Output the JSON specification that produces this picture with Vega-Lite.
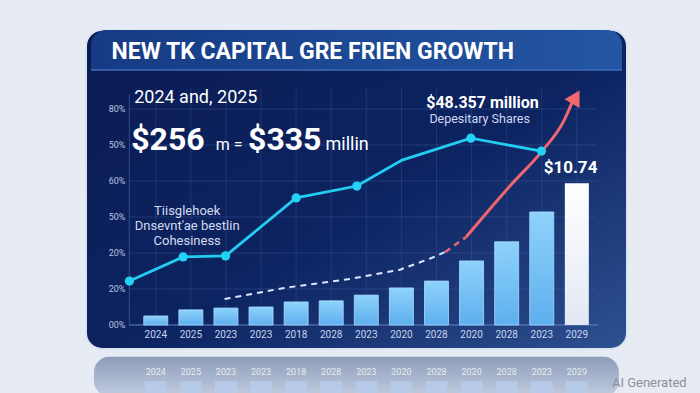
{
  "$schema": "https://vega.github.io/schema/vega-lite/v6.json",
  "width": 541,
  "height": 319,
  "autosize": {"type": "none"},
  "padding": {"left": 86, "top": 30, "right": 73, "bottom": 44},
  "background": "#e7ecf4",
  "config": {
    "axis": {"disable": true},
    "view": {
      "fill": {"gradient": "linear", "x1": 0, "y1": 0, "x2": 1, "y2": 1, "stops": [{"offset": 0, "color": "#0a1b52"}, {"offset": 0.55, "color": "#0d2462"}, {"offset": 1, "color": "#2e5192"}]},
      "stroke": "#dbe4f3",
      "strokeWidth": 2,
      "cornerRadius": 16
    },
    "text": {"font": "Roboto"}
  },
  "datasets": {
    "bars": [
      {"i": 1, "year": "2024", "value": 0.25},
      {"i": 2, "year": "2025", "value": 0.42},
      {"i": 3, "year": "2023", "value": 0.47},
      {"i": 4, "year": "2023", "value": 0.5},
      {"i": 5, "year": "2018", "value": 0.64},
      {"i": 6, "year": "2028", "value": 0.67},
      {"i": 7, "year": "2023", "value": 0.83},
      {"i": 8, "year": "2020", "value": 1.03},
      {"i": 9, "year": "2028", "value": 1.22},
      {"i": 10, "year": "2020", "value": 1.78},
      {"i": 11, "year": "2028", "value": 2.31},
      {"i": 12, "year": "2023", "value": 3.14},
      {"i": 13, "year": "2029", "value": 3.94}
    ],
    "yticks": [
      {"v": 0, "label": "00%"},
      {"v": 1, "label": "20%"},
      {"v": 2, "label": "20%"},
      {"v": 3, "label": "50%"},
      {"v": 4, "label": "60%"},
      {"v": 5, "label": "50%"},
      {"v": 6, "label": "80%"}
    ],
    "cyan": [
      {"x": 0.25, "v": 1.22, "marker": true},
      {"x": 1.78, "v": 1.89, "marker": true},
      {"x": 2.99, "v": 1.92, "marker": true},
      {"x": 5.0, "v": 3.53, "marker": true},
      {"x": 6.73, "v": 3.86, "marker": true},
      {"x": 8.02, "v": 4.58, "marker": false},
      {"x": 9.98, "v": 5.19, "marker": true},
      {"x": 11.99, "v": 4.83, "marker": true}
    ],
    "dashed": [
      {"x": 2.96, "v": 0.72},
      {"x": 4.66, "v": 1.03},
      {"x": 6.54, "v": 1.28},
      {"x": 7.94, "v": 1.53},
      {"x": 8.86, "v": 1.86},
      {"x": 9.25, "v": 2.03}
    ],
    "reddash": [
      {"x": 9.25, "v": 2.03},
      {"x": 9.84, "v": 2.44}
    ],
    "red": [
      {"x": 9.84, "v": 2.44},
      {"x": 10.45, "v": 3.14},
      {"x": 11.15, "v": 3.92},
      {"x": 11.99, "v": 4.81},
      {"x": 12.64, "v": 5.69},
      {"x": 12.86, "v": 6.17}
    ],
    "one": [{"k": 1}]
  },
  "layer": [
    {
      "data": {"name": "one"},
      "mark": {"type": "rect", "cornerRadiusTopLeft": 15, "cornerRadiusTopRight": 15,
        "fill": {"gradient": "linear", "x1": 0, "y1": 0, "x2": 1, "y2": 0, "stops": [{"offset": 0, "color": "#163b84"}, {"offset": 1, "color": "#2456a3"}]}},
      "encoding": {
        "x": {"datum": -0.846, "type": "quantitative", "scale": {"domain": [-0.846, 14.287], "nice": false, "zero": false}},
        "x2": {"datum": 14.287},
        "y": {"datum": 7.083, "type": "quantitative", "scale": {"domain": [-0.667, 8.194], "nice": false, "zero": false}},
        "y2": {"datum": 8.194}
      }
    },
    {
      "data": {"name": "one"},
      "mark": {"type": "rule", "color": "#3f6bbb", "strokeWidth": 1.5},
      "encoding": {
        "x": {"datum": -0.846, "type": "quantitative", "scale": {"domain": [-0.846, 14.287], "nice": false, "zero": false}},
        "x2": {"datum": 14.287},
        "y": {"datum": 7.083, "type": "quantitative", "scale": {"domain": [-0.667, 8.194], "nice": false, "zero": false}}
      }
    },
    {
      "data": {"name": "one"},
      "mark": {"type": "rect", "cornerRadius": 16, "stroke": "#e4eaf4", "strokeWidth": 1.5,
        "fill": {"gradient": "linear", "x1": 0, "y1": 0, "x2": 0, "y2": 1, "stops": [{"offset": 0, "color": "#8c9bb8"}, {"offset": 1, "color": "#c2cde0"}]}},
      "encoding": {
        "x": {"datum": -0.78, "type": "quantitative", "scale": {"domain": [-0.846, 14.287], "nice": false, "zero": false}},
        "x2": {"datum": 14.22},
        "y": {"datum": -0.861, "type": "quantitative", "scale": {"domain": [-0.667, 8.194], "nice": false, "zero": false}},
        "y2": {"datum": -2.0}
      }
    },
    {
      "data": {"name": "bars"},
      "mark": {"type": "bar", "width": 22, "color": "#b7cbea", "opacity": 0.85},
      "encoding": {
        "x": {"field": "i", "type": "quantitative", "scale": {"domain": [-0.846, 14.287], "nice": false, "zero": false}},
        "y": {"datum": -1.56, "type": "quantitative", "scale": {"domain": [-0.667, 8.194], "nice": false, "zero": false}},
        "y2": {"datum": -2.0}
      }
    },
    {
      "data": {"name": "bars"},
      "mark": {"type": "text", "fontSize": 9, "color": "#ffffff", "opacity": 0.75, "baseline": "middle"},
      "encoding": {
        "x": {"field": "i", "type": "quantitative", "scale": {"domain": [-0.846, 14.287], "nice": false, "zero": false}},
        "y": {"datum": -1.31, "type": "quantitative", "scale": {"domain": [-0.667, 8.194], "nice": false, "zero": false}},
        "text": {"field": "year"}
      }
    },
    {
      "data": {"name": "yticks"},
      "mark": {"type": "rule", "color": "#4a68a8", "opacity": 0.35, "strokeWidth": 1},
      "encoding": {
        "x": {"datum": 0.245, "type": "quantitative", "scale": {"domain": [-0.846, 14.287], "nice": false, "zero": false}},
        "x2": {"datum": 13.55},
        "y": {"field": "v", "type": "quantitative", "scale": {"domain": [-0.667, 8.194], "nice": false, "zero": false}}
      }
    },
    {
      "data": {"name": "bars"},
      "mark": {"type": "rule", "color": "#4a68a8", "opacity": 0.3, "strokeWidth": 1},
      "encoding": {
        "x": {"field": "i", "type": "quantitative", "scale": {"domain": [-0.846, 14.287], "nice": false, "zero": false}},
        "y": {"datum": 0, "type": "quantitative", "scale": {"domain": [-0.667, 8.194], "nice": false, "zero": false}},
        "y2": {"datum": 6.6}
      }
    },
    {
      "data": {"name": "one"},
      "mark": {"type": "rule", "color": "#5a78b8", "opacity": 0.5, "strokeWidth": 1},
      "encoding": {
        "x": {"datum": 0.245, "type": "quantitative", "scale": {"domain": [-0.846, 14.287], "nice": false, "zero": false}},
        "y": {"datum": 0, "type": "quantitative", "scale": {"domain": [-0.667, 8.194], "nice": false, "zero": false}},
        "y2": {"datum": 6.4}
      }
    },
    {
      "data": {"name": "one"},
      "mark": {"type": "rule", "color": "#6f8cc8", "opacity": 0.8, "strokeWidth": 1.2},
      "encoding": {
        "x": {"datum": 0.245, "type": "quantitative", "scale": {"domain": [-0.846, 14.287], "nice": false, "zero": false}},
        "x2": {"datum": 13.6},
        "y": {"datum": 0, "type": "quantitative", "scale": {"domain": [-0.667, 8.194], "nice": false, "zero": false}}
      }
    },
    {
      "data": {"name": "yticks"},
      "mark": {"type": "text", "fontSize": 9, "color": "#b9c6e2", "align": "right", "baseline": "middle"},
      "encoding": {
        "x": {"datum": 0.133, "type": "quantitative", "scale": {"domain": [-0.846, 14.287], "nice": false, "zero": false}},
        "y": {"field": "v", "type": "quantitative", "scale": {"domain": [-0.667, 8.194], "nice": false, "zero": false}},
        "text": {"field": "label"}
      }
    },
    {
      "data": {"name": "bars"},
      "transform": [{"filter": "datum.i < 13"}],
      "mark": {"type": "bar", "width": 24, "stroke": "#a9dcff", "strokeWidth": 0.8,
        "fill": {"gradient": "linear", "x1": 0, "y1": 0, "x2": 0, "y2": 1, "stops": [{"offset": 0, "color": "#8ed2fb"}, {"offset": 1, "color": "#5eafee"}]}},
      "encoding": {
        "x": {"field": "i", "type": "quantitative", "scale": {"domain": [-0.846, 14.287], "nice": false, "zero": false}},
        "y": {"field": "value", "type": "quantitative", "scale": {"domain": [-0.667, 8.194], "nice": false, "zero": false}},
        "y2": {"datum": 0}
      }
    },
    {
      "data": {"name": "bars"},
      "transform": [{"filter": "datum.i == 13"}],
      "mark": {"type": "bar", "width": 24,
        "fill": {"gradient": "linear", "x1": 0, "y1": 0, "x2": 0, "y2": 1, "stops": [{"offset": 0, "color": "#ffffff"}, {"offset": 1, "color": "#e2e8f4"}]}},
      "encoding": {
        "x": {"field": "i", "type": "quantitative", "scale": {"domain": [-0.846, 14.287], "nice": false, "zero": false}},
        "y": {"field": "value", "type": "quantitative", "scale": {"domain": [-0.667, 8.194], "nice": false, "zero": false}},
        "y2": {"datum": 0}
      }
    },
    {
      "data": {"name": "bars"},
      "mark": {"type": "text", "fontSize": 10, "color": "#c9d5ee", "baseline": "middle"},
      "encoding": {
        "x": {"field": "i", "type": "quantitative", "scale": {"domain": [-0.846, 14.287], "nice": false, "zero": false}},
        "y": {"datum": -0.28, "type": "quantitative", "scale": {"domain": [-0.667, 8.194], "nice": false, "zero": false}},
        "text": {"field": "year"}
      }
    },
    {
      "data": {"name": "dashed"},
      "mark": {"type": "line", "color": "#dbe6ff", "strokeWidth": 2, "strokeDash": [6, 5]},
      "encoding": {
        "x": {"field": "x", "type": "quantitative", "scale": {"domain": [-0.846, 14.287], "nice": false, "zero": false}},
        "y": {"field": "v", "type": "quantitative", "scale": {"domain": [-0.667, 8.194], "nice": false, "zero": false}}
      }
    },
    {
      "data": {"name": "reddash"},
      "mark": {"type": "line", "color": "#ef6670", "strokeWidth": 2.5, "strokeDash": [6, 5]},
      "encoding": {
        "x": {"field": "x", "type": "quantitative", "scale": {"domain": [-0.846, 14.287], "nice": false, "zero": false}},
        "y": {"field": "v", "type": "quantitative", "scale": {"domain": [-0.667, 8.194], "nice": false, "zero": false}}
      }
    },
    {
      "data": {"name": "red"},
      "mark": {"type": "line", "color": "#ef6670", "strokeWidth": 3, "interpolate": "monotone"},
      "encoding": {
        "x": {"field": "x", "type": "quantitative", "scale": {"domain": [-0.846, 14.287], "nice": false, "zero": false}},
        "y": {"field": "v", "type": "quantitative", "scale": {"domain": [-0.667, 8.194], "nice": false, "zero": false}}
      }
    },
    {
      "data": {"name": "one"},
      "mark": {"type": "point", "shape": "triangle-up", "filled": true, "color": "#f2686f", "opacity": 1, "size": 300, "angle": 30},
      "encoding": {
        "x": {"datum": 12.97, "type": "quantitative", "scale": {"domain": [-0.846, 14.287], "nice": false, "zero": false}},
        "y": {"datum": 6.33, "type": "quantitative", "scale": {"domain": [-0.667, 8.194], "nice": false, "zero": false}}
      }
    },
    {
      "data": {"name": "cyan"},
      "mark": {"type": "line", "color": "#22cdf0", "strokeWidth": 2.8},
      "encoding": {
        "x": {"field": "x", "type": "quantitative", "scale": {"domain": [-0.846, 14.287], "nice": false, "zero": false}},
        "y": {"field": "v", "type": "quantitative", "scale": {"domain": [-0.667, 8.194], "nice": false, "zero": false}}
      }
    },
    {
      "data": {"name": "cyan"},
      "transform": [{"filter": "datum.marker"}],
      "mark": {"type": "point", "filled": true, "color": "#22d3f5", "opacity": 1, "size": 85},
      "encoding": {
        "x": {"field": "x", "type": "quantitative", "scale": {"domain": [-0.846, 14.287], "nice": false, "zero": false}},
        "y": {"field": "v", "type": "quantitative", "scale": {"domain": [-0.667, 8.194], "nice": false, "zero": false}}
      }
    },
    {
      "data": {"values": [{"t": "NEW TK CAPITAL GRE FRIEN GROWTH"}]},
      "mark": {"type": "text", "fontSize": 23, "fontWeight": "bold", "color": "#ffffff", "align": "left", "baseline": "alphabetic"},
      "encoding": {
        "x": {"datum": -0.26, "type": "quantitative", "scale": {"domain": [-0.846, 14.287], "nice": false, "zero": false}},
        "y": {"datum": 7.389, "type": "quantitative", "scale": {"domain": [-0.667, 8.194], "nice": false, "zero": false}},
        "text": {"field": "t"}
      }
    },
    {
      "data": {"values": [{"t": "2024 and, 2025"}]},
      "mark": {"type": "text", "fontSize": 18, "color": "#ffffff", "align": "left", "baseline": "alphabetic"},
      "encoding": {
        "x": {"datum": 0.385, "type": "quantitative", "scale": {"domain": [-0.846, 14.287], "nice": false, "zero": false}},
        "y": {"datum": 6.167, "type": "quantitative", "scale": {"domain": [-0.667, 8.194], "nice": false, "zero": false}},
        "text": {"field": "t"}
      }
    },
    {
      "data": {"values": [{"t": "$256"}]},
      "mark": {"type": "text", "fontSize": 32, "fontWeight": "bold", "color": "#ffffff", "align": "left", "baseline": "alphabetic"},
      "encoding": {
        "x": {"datum": 0.3, "type": "quantitative", "scale": {"domain": [-0.846, 14.287], "nice": false, "zero": false}},
        "y": {"datum": 4.861, "type": "quantitative", "scale": {"domain": [-0.667, 8.194], "nice": false, "zero": false}},
        "text": {"field": "t"}
      }
    },
    {
      "data": {"values": [{"t": "m ="}]},
      "mark": {"type": "text", "fontSize": 16, "color": "#ffffff", "align": "left", "baseline": "alphabetic"},
      "encoding": {
        "x": {"datum": 2.706, "type": "quantitative", "scale": {"domain": [-0.846, 14.287], "nice": false, "zero": false}},
        "y": {"datum": 4.861, "type": "quantitative", "scale": {"domain": [-0.667, 8.194], "nice": false, "zero": false}},
        "text": {"field": "t"}
      }
    },
    {
      "data": {"values": [{"t": "$335"}]},
      "mark": {"type": "text", "fontSize": 32, "fontWeight": "bold", "color": "#ffffff", "align": "left", "baseline": "alphabetic"},
      "encoding": {
        "x": {"datum": 3.629, "type": "quantitative", "scale": {"domain": [-0.846, 14.287], "nice": false, "zero": false}},
        "y": {"datum": 4.861, "type": "quantitative", "scale": {"domain": [-0.667, 8.194], "nice": false, "zero": false}},
        "text": {"field": "t"}
      }
    },
    {
      "data": {"values": [{"t": "millin"}]},
      "mark": {"type": "text", "fontSize": 18, "color": "#ffffff", "align": "left", "baseline": "alphabetic"},
      "encoding": {
        "x": {"datum": 5.839, "type": "quantitative", "scale": {"domain": [-0.846, 14.287], "nice": false, "zero": false}},
        "y": {"datum": 4.861, "type": "quantitative", "scale": {"domain": [-0.667, 8.194], "nice": false, "zero": false}},
        "text": {"field": "t"}
      }
    },
    {
      "data": {"values": [{"t": ["Tiisglehoek", "Dnsevnt'ae bestlin", "Cohesiness"]}]},
      "mark": {"type": "text", "fontSize": 13, "color": "#d3dcf0", "align": "center", "baseline": "alphabetic", "lineHeight": 15},
      "encoding": {
        "x": {"datum": 1.895, "type": "quantitative", "scale": {"domain": [-0.846, 14.287], "nice": false, "zero": false}},
        "y": {"datum": 3.056, "type": "quantitative", "scale": {"domain": [-0.667, 8.194], "nice": false, "zero": false}},
        "text": {"field": "t"}
      }
    },
    {
      "data": {"values": [{"t": "$48.357 million"}]},
      "mark": {"type": "text", "fontSize": 16, "fontWeight": "bold", "color": "#ffffff", "align": "center", "baseline": "alphabetic"},
      "encoding": {
        "x": {"datum": 10.31, "type": "quantitative", "scale": {"domain": [-0.846, 14.287], "nice": false, "zero": false}},
        "y": {"datum": 6.03, "type": "quantitative", "scale": {"domain": [-0.667, 8.194], "nice": false, "zero": false}},
        "text": {"field": "t"}
      }
    },
    {
      "data": {"values": [{"t": "Depesitary Shares"}]},
      "mark": {"type": "text", "fontSize": 12.5, "color": "#cdd8f0", "align": "center", "baseline": "alphabetic"},
      "encoding": {
        "x": {"datum": 10.23, "type": "quantitative", "scale": {"domain": [-0.846, 14.287], "nice": false, "zero": false}},
        "y": {"datum": 5.61, "type": "quantitative", "scale": {"domain": [-0.667, 8.194], "nice": false, "zero": false}},
        "text": {"field": "t"}
      }
    },
    {
      "data": {"values": [{"t": "$10.74"}]},
      "mark": {"type": "text", "fontSize": 17, "fontWeight": "bold", "color": "#ffffff", "align": "center", "baseline": "alphabetic"},
      "encoding": {
        "x": {"datum": 12.82, "type": "quantitative", "scale": {"domain": [-0.846, 14.287], "nice": false, "zero": false}},
        "y": {"datum": 4.22, "type": "quantitative", "scale": {"domain": [-0.667, 8.194], "nice": false, "zero": false}},
        "text": {"field": "t"}
      }
    },
    {
      "data": {"values": [{"t": "AI Generated"}]},
      "mark": {"type": "text", "fontSize": 13, "color": "#8b9099", "align": "right", "baseline": "alphabetic"},
      "encoding": {
        "x": {"datum": 16.13, "type": "quantitative", "scale": {"domain": [-0.846, 14.287], "nice": false, "zero": false}},
        "y": {"datum": -1.72, "type": "quantitative", "scale": {"domain": [-0.667, 8.194], "nice": false, "zero": false}},
        "text": {"field": "t"}
      }
    }
  ]
}
